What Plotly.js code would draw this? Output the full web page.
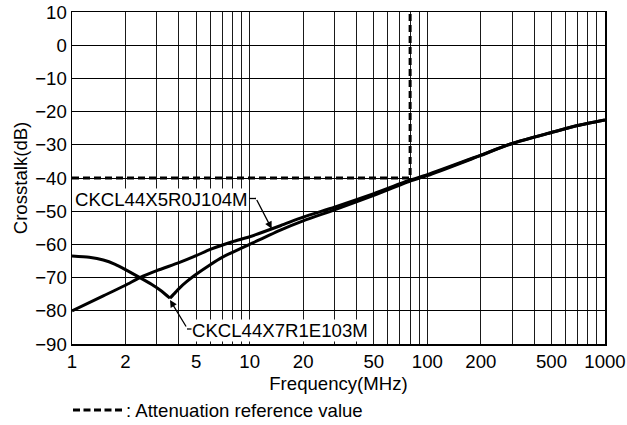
<!DOCTYPE html>
<html>
<head>
<meta charset="utf-8">
<script src="https://cdn.plot.ly/plotly-3.0.1.min.js"></script>
<style>html,body{margin:0;padding:0;background:#fff;}#chart{width:627px;height:425px;}</style>
</head>
<body>
<div id="chart"></div>
<script>
// Frequency (MHz) and crosstalk (dB)
const freqX5R = [1, 1.5, 2, 2.41, 3, 4, 5, 6, 8, 10, 15, 20, 30, 50, 80, 100, 200, 300, 500, 700, 1000];
const xtalkX5R = [-80, -75.5, -72.3, -70, -67.9, -65.5, -63.4, -61.5, -59.2, -57.7, -54.3, -51.8, -48.8, -44.7, -40.6, -39, -33.1, -29.6, -26.3, -24.2, -22.5];

const freqX7R = [1, 1.25, 1.5, 1.75, 2, 2.41, 2.8, 3.2, 3.56, 3.8, 4, 4.4, 5, 6, 7, 8, 10, 15, 20, 30, 50, 80, 100, 200, 300, 500, 700, 1000];
const xtalkX7R = [-63.5, -63.9, -64.7, -66.0, -67.6, -70, -72.0, -74.1, -76.2, -74.6, -73.3, -71.3, -69, -66.1, -63.9, -62.4, -60, -55.6, -52.9, -49.6, -45.2, -40.9, -39.3, -33.2, -29.6, -26.3, -24.2, -22.5];
const dipIndexX7R = 8; // the sharp notch of the X7R curve

const refFreq = [1, 80, 80];
const refLevel = [-40, -40, 10];

const labelX5R = "CKCL44X5R0J104M";
const labelX7R = "CKCL44X7R1E103M";
const legendText = ": Attenuation reference value";

const xTickVals = [1,2,3,4,5,6,7,8,9,10,20,30,40,50,60,70,80,90,100,200,300,400,500,600,700,800,900,1000];
const xTickText = ["1","2","","","5","","","","","10","20","","","50","","","","","100","200","","","500","","","","","1000"];
const yTickVals = [10, 0, -10, -20, -30, -40, -50, -60, -70, -80, -90];

// plot-area pixel helpers (layout only)
const L = 72, T = 12, W = 533, H = 332;
const px = p => (p - L) / W;
const py = p => (T + H - p) / H;

const FONT = "Liberation Sans, Arial, Helvetica, sans-serif";
const FS = 18.6;

const curveLine = {color: "#000", width: 3, shape: "spline", smoothing: 0.6};
const traces = [
  {x: freqX5R, y: xtalkX5R, mode: "lines", line: curveLine, hoverinfo: "skip"},
  {x: freqX7R.slice(0, dipIndexX7R + 1), y: xtalkX7R.slice(0, dipIndexX7R + 1), mode: "lines", line: curveLine, hoverinfo: "skip"},
  {x: freqX7R.slice(dipIndexX7R), y: xtalkX7R.slice(dipIndexX7R), mode: "lines", line: curveLine, hoverinfo: "skip"},
  {x: refFreq, y: refLevel, mode: "lines", line: {color: "#000", width: 3, dash: "7px,4px"}, hoverinfo: "skip"}
];

const layout = {
  width: 627, height: 425,
  margin: {l: 72, r: 22, t: 12, b: 81},
  paper_bgcolor: "#fff", plot_bgcolor: "#fff",
  showlegend: false,
  font: {family: FONT, size: FS, color: "#000"},
  xaxis: {
    type: "log", range: [0, 3],
    tickmode: "array", tickvals: xTickVals, ticktext: xTickText,
    showgrid: true, gridcolor: "#1a1a1a", gridwidth: 1,
    showline: true, linecolor: "#000", linewidth: 1.5, mirror: true,
    ticks: "", zeroline: false,
    tickfont: {family: FONT, size: FS, color: "#000"},
    title: {text: "Frequency(MHz)", font: {family: FONT, size: FS, color: "#000"}, standoff: 6}
  },
  yaxis: {
    range: [-90, 10],
    tickmode: "array", tickvals: yTickVals,
    showgrid: true, gridcolor: "#000", gridwidth: 1,
    showline: true, linecolor: "#000", linewidth: 1.5, mirror: true,
    ticks: "", zeroline: false,
    tickfont: {family: FONT, size: FS, color: "#000"},
    title: {text: "Crosstalk(dB)", font: {family: FONT, size: FS, color: "#000"}, standoff: 2}
  },
  shapes: [
    {type: "line", xref: "paper", yref: "paper", x0: px(249), x1: px(256), y0: py(198.5), y1: py(198.5), line: {color: "#000", width: 1.3}},
    {type: "line", xref: "paper", yref: "paper", x0: px(187), x1: px(192), y0: py(329), y1: py(329), line: {color: "#000", width: 1.3}},
    {type: "line", xref: "paper", yref: "paper", x0: px(73), x1: px(123), y0: py(410), y1: py(410), line: {color: "#000", width: 3, dash: "7px,3.5px"}}
  ],
  annotations: [
    {xref: "paper", yref: "paper", x: px(74), y: py(199), xanchor: "left", yanchor: "middle",
     text: labelX5R, showarrow: false, bgcolor: "#fff", borderpad: 0, font: {family: FONT, size: FS, color: "#000"}},
    {xref: "paper", yref: "paper", x: px(271.7), y: py(228.8), text: "", showarrow: true,
     ax: -15.7, ay: -30.3, arrowhead: 2, arrowsize: 1.1, arrowwidth: 1.3, arrowcolor: "#000"},
    {xref: "paper", yref: "paper", x: px(191), y: py(330), xanchor: "left", yanchor: "middle",
     text: labelX7R, showarrow: false, bgcolor: "#fff", borderpad: 0, font: {family: FONT, size: FS, color: "#000"}},
    {xref: "paper", yref: "paper", x: px(170), y: py(300), text: "", showarrow: true,
     ax: 17, ay: 28, arrowhead: 2, arrowsize: 1.1, arrowwidth: 1.3, arrowcolor: "#000"},
    {xref: "paper", yref: "paper", x: px(124), y: py(410), xanchor: "left", yanchor: "middle",
     text: legendText, showarrow: false, font: {family: FONT, size: FS, color: "#000"}}
  ]
};

Plotly.newPlot("chart", traces, layout, {staticPlot: true, displayModeBar: false});
</script>
</body>
</html>
